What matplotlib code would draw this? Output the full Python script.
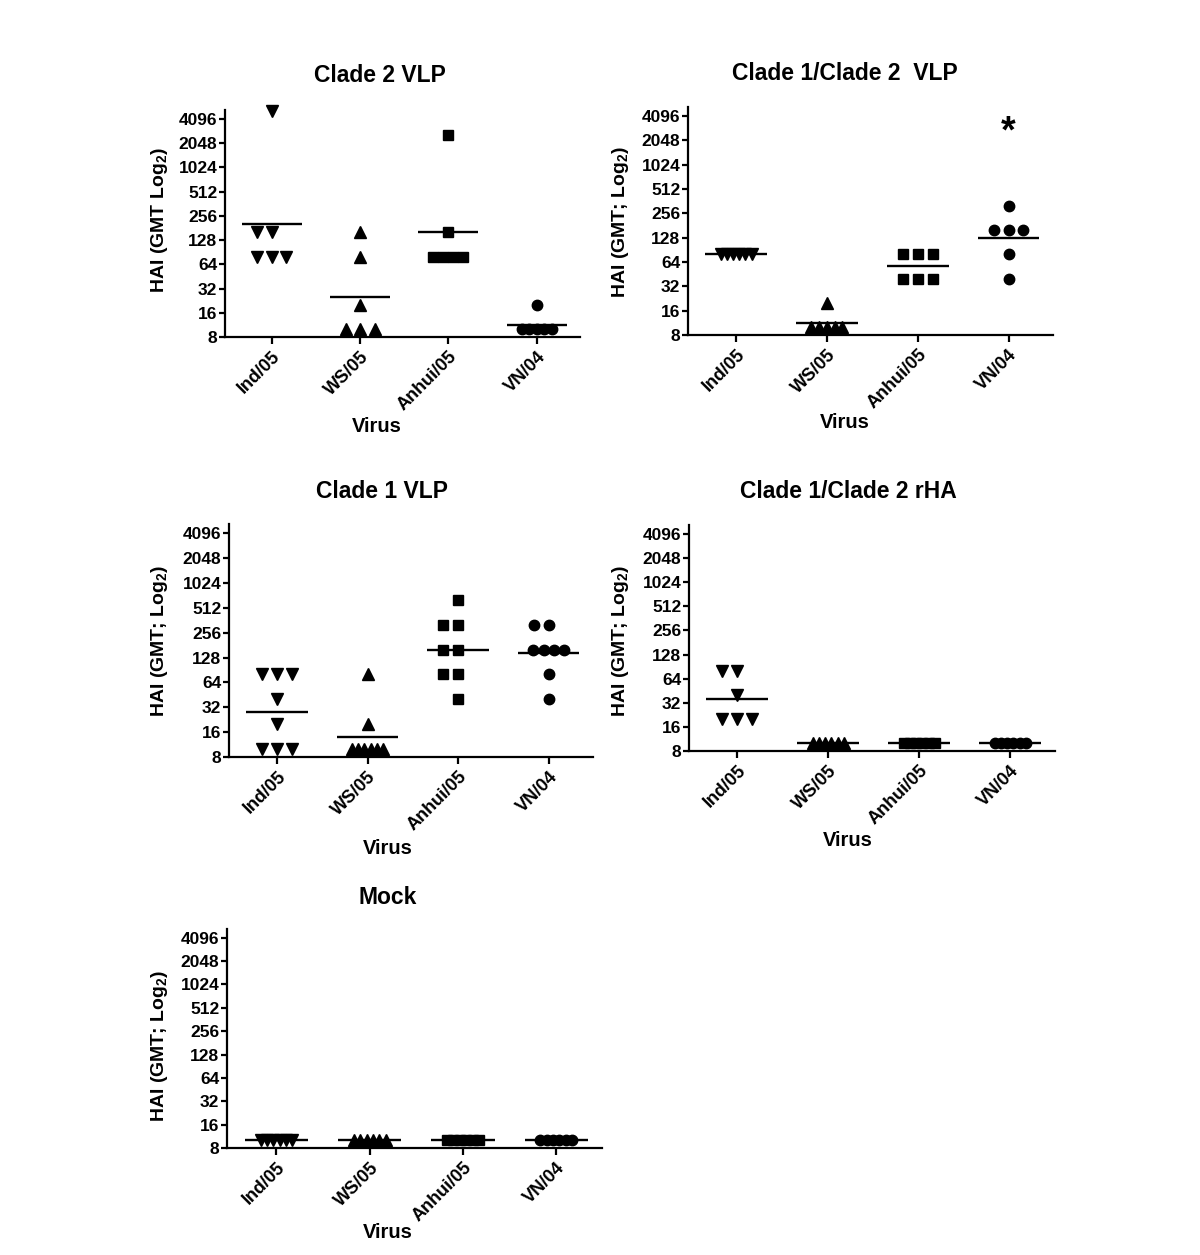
import numpy as np
import matplotlib
matplotlib.use("Agg")
import matplotlib.pyplot as plt

plt.rcParams['font.family'] = ['Liberation Sans', 'DejaVu Sans']
plt.rcParams['font.weight'] = 'bold'
plt.rcParams['mathtext.fontset'] = 'custom'
plt.rcParams['mathtext.rm'] = 'Liberation Sans:bold'
plt.rcParams['mathtext.bf'] = 'Liberation Sans:bold'
plt.rcParams['mathtext.default'] = 'rm'

# ---------------- data ----------------
viruses = ['Ind/05', 'WS/05', 'Anhui/05', 'VN/04']
markers = ['v', '^', 's', 'o']
y_ticks = [8, 16, 32, 64, 128, 256, 512, 1024, 2048, 4096]

titles = ['Clade 2 VLP', 'Clade 1/Clade 2  VLP', 'Clade 1 VLP', 'Clade 1/Clade 2 rHA', 'Mock']
ylabels = [r'HAI (GMT Log$_2$)', r'HAI (GMT; Log$_2$)', r'HAI (GMT; Log$_2$)',
           r'HAI (GMT; Log$_2$)', r'HAI (GMT; Log$_2$)']

clade2_ind = [5120, 160, 160, 80, 80, 80]
clade2_ws = [160, 80, 20, 10, 10, 10]
clade2_anhui = [2560, 160, 80, 80, 80, 80]
clade2_vn = [20, 10, 10, 10, 10, 10]

c12vlp_ind = [80, 80, 80, 80, 80, 80]
c12vlp_ws = [20, 10, 10, 10, 10, 10]
c12vlp_anhui = [80, 80, 80, 40, 40, 40]
c12vlp_vn = [320, 160, 160, 160, 80, 40]

clade1_ind = [80, 80, 80, 40, 20, 10, 10, 10]
clade1_ws = [80, 20, 10, 10, 10, 10, 10, 10]
clade1_anhui = [640, 320, 320, 160, 160, 80, 80, 40]
clade1_vn = [320, 320, 160, 160, 160, 160, 80, 40]

rha_ind = [80, 80, 40, 20, 20, 20]
rha_ws = [10, 10, 10, 10, 10, 10]
rha_anhui = [10, 10, 10, 10, 10, 10]
rha_vn = [10, 10, 10, 10, 10, 10]

mock_ind = [10, 10, 10, 10, 10, 10]
mock_ws = [10, 10, 10, 10, 10, 10]
mock_anhui = [10, 10, 10, 10, 10, 10]
mock_vn = [10, 10, 10, 10, 10, 10]

panels_data = [
    [clade2_ind, clade2_ws, clade2_anhui, clade2_vn],
    [c12vlp_ind, c12vlp_ws, c12vlp_anhui, c12vlp_vn],
    [clade1_ind, clade1_ws, clade1_anhui, clade1_vn],
    [rha_ind, rha_ws, rha_anhui, rha_vn],
    [mock_ind, mock_ws, mock_anhui, mock_vn],
]
star_value = 2600  # position of the significance asterisk (VN/04, panel 2)

# ---------------- layout (pixels) ----------------
W, H = 1200, 1255
# left, right, bottom(y=8), top
axes_px = [
    (225, 580, 337, 110),
    (688, 1053, 335, 107),
    (229, 593, 757, 524),
    (689, 1055, 751, 525),
    (227, 602, 1148, 929),
]
title_px = [(380, 76), (845, 73), (382, 491), (848, 492), (388, 897)]
ylabel_px = [(160, 220), (620, 222), (160, 641), (620, 641), (160, 1046)]
xlabel_px = [(377, 427), (845, 423), (388, 848), (848, 841), (388, 1232)]

fig = plt.figure(figsize=(W / 100, H / 100), dpi=100)
fig.patch.set_facecolor('white')

YMIN, YMAX = 8, 5300
XMIN, XMAX = -0.53, 3.49


def offsets_for(vals):
    vals = np.asarray(vals, dtype=float)
    offs = np.zeros(len(vals))
    for v in np.unique(vals):
        idx = np.where(vals == v)[0]
        n = len(idx)
        if n == 1:
            continue
        if n <= 3:
            step = 0.165
            o = (np.arange(n) - n // 2) * step
        else:
            step = min(0.165, 0.34 / (n - 1))
            o = (np.arange(n) - (n - 1) / 2) * step
        offs[idx] = o
    return offs


for p, data in enumerate(panels_data):
    l, r, b, t = axes_px[p]
    ax = fig.add_axes([l / W, 1 - b / H, (r - l) / W, (b - t) / H])
    ax.set_yscale('log', base=2)
    ax.set_ylim(YMIN, YMAX)
    ax.set_xlim(XMIN, XMAX)
    for i, vals in enumerate(data):
        xo = i + offsets_for(vals)
        ax.plot(xo, vals, linestyle='none', marker=markers[i],
                ms=8 if markers[i] in ('v', '^') else 7.5,
                color='black', clip_on=False, zorder=3)
        gmt = np.exp(np.mean(np.log(vals)))
        ax.plot([i - 0.34, i + 0.34], [gmt, gmt], color='black', lw=1.7,
                solid_capstyle='butt', zorder=4)
    ax.set_yticks(y_ticks)
    ax.set_yticklabels([str(v) for v in y_ticks], fontsize=12.5, fontweight='bold')
    ax.yaxis.set_minor_locator(matplotlib.ticker.NullLocator())
    ax.set_xticks(range(len(viruses)))
    ax.set_xticklabels(viruses, rotation=45, ha='right', rotation_mode='anchor',
                       fontsize=13, fontweight='bold')
    for s in ('top', 'right'):
        ax.spines[s].set_visible(False)
    for s in ('left', 'bottom'):
        ax.spines[s].set_linewidth(1.6)
    ax.tick_params(axis='y', direction='out', length=4.5, width=1.6, pad=1)
    ax.tick_params(axis='x', direction='out', length=5, width=1.6, pad=3)
    ax.patch.set_alpha(0)

    fig.text(title_px[p][0] / W, 1 - title_px[p][1] / H, titles[p], ha='center', va='center',
             fontsize=16.5, fontweight='bold')
    fig.text(ylabel_px[p][0] / W, 1 - ylabel_px[p][1] / H, ylabels[p], ha='center', va='center',
             rotation=90, fontsize=14, fontweight='bold')
    fig.text(xlabel_px[p][0] / W, 1 - xlabel_px[p][1] / H, 'Virus', ha='center', va='center',
             fontsize=14.5, fontweight='bold')
    if p == 1:
        ax.text(3, star_value, '*', ha='center', va='center', fontsize=27, fontweight='bold')

fig.savefig('out.png', dpi=100, facecolor='white')
